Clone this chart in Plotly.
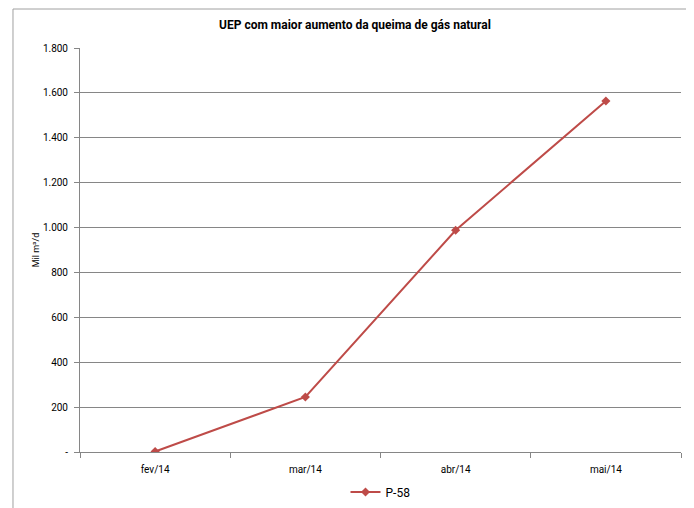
import plotly.graph_objects as go

meses = ["fev/14", "mar/14", "abr/14", "mai/14"]
p58 = [2, 245, 988, 1564]
y_ticks = [0, 200, 400, 600, 800, 1000, 1200, 1400, 1600, 1800]
y_labels = ["-", "200", "400", "600", "800", "1.000", "1.200", "1.400", "1.600", "1.800"]

FONT = "Liberation Sans Narrow, Roboto, Arial, sans-serif"

fig = go.Figure()
fig.add_trace(go.Scatter(
    x=meses, y=p58, name="P-58", mode="lines+markers",
    line=dict(color="#BE4B48", width=2),
    marker=dict(symbol="diamond", size=7, color="#BE4B48"),
))

# the page body adds 8px, so margins are shifted by that amount
fig.update_layout(
    width=694, height=508,
    paper_bgcolor="white", plot_bgcolor="white",
    margin=dict(l=72, r=21, t=40, b=64, autoexpand=False),
    font=dict(family=FONT, size=10, color="#000000"),
    title=dict(text="<b>UEP com maior aumento da queima de gás natural</b>",
               x=0.5, xanchor="center", y=0.9665, yanchor="middle",
               font=dict(size=12, family=FONT), automargin=False),
    showlegend=True,
    legend=dict(orientation="h", x=0.5, xanchor="center", y=-0.099, yanchor="middle",
                font=dict(size=12, family=FONT)),
    shapes=[dict(type="rect", xref="paper", yref="paper",
                 x0=-0.1115, x1=1.015, y0=-0.2, y1=1.0965,
                 line=dict(color="#A0A0A0", width=1))],
)
fig.update_xaxes(
    range=[-0.5, 3.5], automargin=False,
    showline=True, linecolor="#868686", linewidth=1,
    ticks="outside", ticklen=5, tickcolor="#868686",
    tickson="boundaries", showgrid=False, ticklabelstandoff=8,
    tickfont=dict(size=10, family=FONT),
)
fig.update_yaxes(
    range=[0, 1800], tickvals=y_ticks, ticktext=y_labels, automargin=False,
    showgrid=True, gridcolor="#868686", gridwidth=1,
    showline=True, linecolor="#868686", linewidth=1,
    ticks="outside", ticklen=5, tickcolor="#868686",
    zeroline=False, ticklabelstandoff=4,
    tickfont=dict(size=10, family=FONT),
    title=dict(text="Mil m³/d", font=dict(size=9, family=FONT), standoff=1),
)

fig.write_html("out.html")
